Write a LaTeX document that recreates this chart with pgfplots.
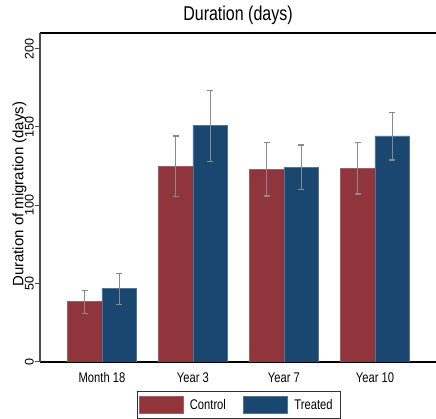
\documentclass[border=0pt]{standalone}
\usepackage{fontspec}
\setmainfont{Liberation Sans}
\newfontfamily\narrowfont[FakeStretch=0.8]{Liberation Sans}
\usepackage{pgfplots}
\usepackage{pgfplotstable}
\pgfplotsset{compat=1.18}
\definecolor{ctrl}{RGB}{144,53,59}
\definecolor{trt}{RGB}{26,71,111}
\definecolor{errgray}{RGB}{138,138,138}

\pgfplotstableread{
x y ep em
0 38.6 7.2 7.9
1 125.0 19.2 19.6
2 123.1 16.8 17.2
3 123.8 16.1 16.6
}\control
\pgfplotstableread{
x y ep em
0 46.9 9.6 10.0
1 150.8 22.4 23.0
2 124.4 14.1 14.5
3 144.4 14.7 15.5
}\treated

\begin{document}
\begin{tikzpicture}
\begin{axis}[
  scale only axis,
  width=396pt, height=329pt,
  xmin=-0.681, xmax=3.671,
  ymin=0, ymax=210,
  ybar=0pt, bar width=34.5pt,
  axis x line=box, axis y line=left,
  x axis line style={-, black, line width=1.5pt},
  y axis line style={-, black!70, line width=1.3pt},
  xtick={0,1,2,3},
  xticklabels={Month 18, Year 3, Year 7, Year 10},
  x tick style={draw=none},
  major x tick style={draw=none},
  ytick={0,50,100,150,200},
  tick align=outside,
  y tick style={black!70, line width=1pt},
  major tick length=5pt,
  /pgf/number format/assume math mode=true,
  xticklabel style={font=\narrowfont\fontsize{14}{16}\selectfont, anchor=base, yshift=-16pt},
  yticklabel style={font=\fontsize{12.5}{14}\selectfont, rotate=90, anchor=south, inner sep=1pt},
  every axis y label/.style={at={(rel axis cs:0,0.51)}, xshift=-16.7pt, rotate=90, anchor=base},
  ylabel={\fontsize{15}{17}\selectfont Duration of migration (days)},
  title={\narrowfont\fontsize{20}{22}\selectfont Duration (days)},
  title style={at={(rel axis cs:0.5,1)}, anchor=base, yshift=6.3pt},
  legend columns=2,
  legend image code/.code={\fill[#1] (0pt,-8.5pt) rectangle (44pt,8.5pt);},
  legend style={at={(0.5025,0)}, anchor=north, yshift=-29pt,
    draw=black!80, line width=0.6pt, inner xsep=1.5pt, inner ysep=5pt,
    nodes={inner xsep=6.5pt, inner ysep=2pt},
    font=\narrowfont\fontsize{14}{16}\selectfont,
    /tikz/every even column/.append style={column sep=11pt}},
  error bars/y dir=both, error bars/y explicit,
  error bars/error bar style={errgray, line width=1.2pt},
  error bars/error mark options={errgray, rotate=90, mark size=3pt, line width=1.2pt},
]
\addplot[fill=ctrl, draw=ctrl!80!white, line width=0.5pt] table[x=x, y=y, y error plus=ep, y error minus=em] {\control};
\addlegendentry{Control}
\addplot[fill=trt, draw=trt!75!white, line width=0.5pt] table[x=x, y=y, y error plus=ep, y error minus=em] {\treated};
\addlegendentry{Treated}
\coordinate (ll) at (rel axis cs:0,0);
\coordinate (ur) at (rel axis cs:1,1);
\end{axis}
\pgfresetboundingbox
\path ([shift={(-40pt,-57pt)}]ll) rectangle ([shift={(0pt,33pt)}]ur);
\end{tikzpicture}
\end{document}
